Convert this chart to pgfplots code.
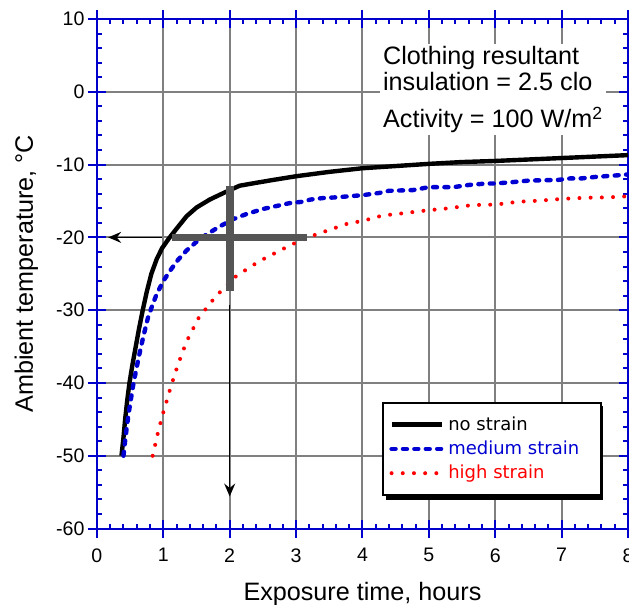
\documentclass[border=0pt]{standalone}
\usepackage{fontspec}
\setmainfont{Liberation Sans}
\newfontfamily\legendfont{DejaVu Sans}
\usepackage{pgfplots}
\pgfplotsset{compat=1.18}
\usetikzlibrary{arrows.meta}
\definecolor{axblue}{RGB}{0,0,205}
\definecolor{curveblue}{RGB}{0,0,210}
\definecolor{curvered}{RGB}{255,0,0}
\definecolor{gridgray}{RGB}{128,128,128}
\definecolor{crossgray}{RGB}{85,85,85}
\pgfplotsset{
  common/.style={
    scale only axis, width=265.75pt, height=255pt,
    xmin=0, xmax=8, ymin=-60, ymax=10,
    xtick={0,1,...,8}, ytick={-60,-50,...,10},
    tick style={axblue, line width=1pt},
    legend cell align=left,
    legend image code/.code={\draw[##1] (0pt,0pt) -- (25.3pt,0pt);},
    legend style={at={(axis cs:4.30,-42.66)}, anchor=north west,
      line width=1pt,
      inner xsep=3pt, inner ysep=6.5pt,
      font=\legendfont\fontsize{9}{10}\selectfont,
      nodes={inner sep=0pt}, row sep=3.8pt,
      /tikz/every odd column/.append style={column sep=2pt}},
  }
}
\begin{document}
\begin{tikzpicture}
% background axis: grid, outward major ticks, legend shadow
\begin{axis}[common,
  minor tick num=0,
  tick align=outside, major tick length=4.5pt,
  axis line style={draw=none},
  xticklabels={}, yticklabels={},
  grid=major, major grid style={gridgray, line width=1pt},
  legend style={xshift=2pt, yshift=-2pt, draw=black, fill=black, text=black},
]
\addplot[draw=none] coordinates {(0,0)};
\addlegendentry{\phantom{no strain}}
\addplot[draw=none] coordinates {(0,0)};
\addlegendentry{\phantom{medium strain}\hspace*{7.8pt}}
\addplot[draw=none] coordinates {(0,0)};
\addlegendentry{\phantom{high strain}}
\end{axis}
% main axis
\begin{axis}[common,
  minor x tick num=4, minor y tick num=4,
  tick align=inside, major tick length=4.5pt, minor tick length=2.5pt,
  axis line style={axblue, line width=1pt},
  /pgf/number format/assume math mode=true,
  ticklabel style={font=\fontsize{9.8}{11}\selectfont, inner sep=0pt},
  xticklabel style={yshift=-9.75pt},
  yticklabel style={xshift=-6pt},
  xlabel={Exposure time, hours},
  ylabel={Ambient temperature, °C},
  label style={font=\fontsize{12.6}{14}\selectfont},
  xlabel style={at={(axis description cs:0.5,-0.141)}, anchor=base},
  ylabel style={at={(axis description cs:-0.1204,0.5)}, anchor=base},
  legend style={draw=black, fill=white},
]
\addplot[black, line width=2.2pt, line join=round] coordinates {
(0.37,-50) (0.40,-47.5) (0.425,-45) (0.455,-42.5) (0.49,-40) (0.535,-37.5)
(0.585,-35) (0.635,-32.5) (0.69,-30) (0.75,-27.5) (0.82,-25) (0.90,-23)
(0.98,-21.5) (1.08,-20.2) (1.2,-18.8) (1.35,-17.1) (1.5,-15.9) (1.7,-14.8)
(1.93,-13.8) (2.15,-12.9) (2.4,-12.5) (2.66,-12.1) (3.0,-11.6) (3.5,-11.0)
(4,-10.5) (4.5,-10.2) (5,-9.9) (5.5,-9.65) (6,-9.5) (6.5,-9.3) (7,-9.1)
(7.5,-8.9) (8,-8.7)};
\addlegendentry{no strain}
\addplot[curveblue, line width=2.2pt, line cap=round, line join=round, dash pattern=on 2pt off 3.7pt] coordinates {
(0.40,-50) (0.43,-47.5) (0.47,-44.7) (0.51,-42.3) (0.55,-40.1) (0.60,-37.8)
(0.65,-35.6) (0.71,-33.2) (0.77,-31) (0.84,-29.2) (0.90,-27.8) (1.00,-26.0)
(1.10,-24.6) (1.22,-23.1) (1.35,-21.8) (1.50,-20.6) (1.65,-19.6) (1.85,-18.5)
(2.05,-17.5) (2.25,-16.8) (2.50,-16.1) (2.7,-15.7) (2.9,-15.3) (3.1,-15.1)
(3.22,-14.8) (3.4,-14.6) (3.6,-14.5) (4,-14.2) (4.25,-13.9) (4.4,-13.6)
(4.76,-13.5) (5,-13.1) (5.37,-13.1) (5.6,-12.8) (5.86,-12.6) (6,-12.6)
(6.27,-12.4) (6.5,-12.2) (6.95,-12.1) (7.13,-11.9) (7.3,-11.9) (7.5,-11.7)
(7.88,-11.45) (8,-11.35)};
\addlegendentry{\textcolor{curveblue}{medium strain}\hspace*{7.8pt}}
\addplot[curvered, line width=2pt, line cap=round, line join=round, dash pattern=on 0pt off 5.6pt] coordinates {
(0.84,-50) (0.88,-48.4) (0.92,-46.8) (0.965,-45.2) (1.01,-43.7) (1.06,-42.2)
(1.11,-40.6) (1.22,-37.5) (1.35,-34.3) (1.53,-31.1) (1.79,-28.1) (2.10,-25.3)
(2.44,-23.3) (2.80,-21.6) (3.0,-20.7) (3.3,-19.6) (3.62,-18.6) (3.81,-18.0)
(3.98,-17.8) (4.3,-17.0) (4.6,-16.7) (4.96,-16.3) (5.3,-16.0) (5.66,-15.55)
(6,-15.5) (6.35,-15.1) (6.67,-14.95) (7.02,-14.7) (7.38,-14.55) (7.7,-14.5)
(8,-14.35)};
\addlegendentry{\textcolor{curvered}{high strain}}
% annotation cross and arrows
\addplot[crossgray, line width=3.8pt, forget plot] coordinates {(1.124,-20) (3.165,-20)};
\addplot[crossgray, line width=4pt, forget plot] coordinates {(2,-13.0) (2,-27.3)};
\addplot[black, line width=0.7pt, -{Stealth[length=6.5pt,width=5.5pt,inset=2.2pt]}, forget plot] coordinates {(0.973,-20) (0.17,-20)};
\addplot[black, line width=0.7pt, -{Stealth[length=6.5pt,width=5.5pt,inset=2.2pt]}, forget plot] coordinates {(2,-29.25) (2,-55.6)};
\node[anchor=north west, fill=white, inner xsep=1.5pt, inner ysep=1pt, align=left,
  font=\fontsize{12.6}{13.15}\selectfont] at (axis cs:4.26,6.57)
  {Clothing resultant\\insulation = 2.5 clo\\[5.35pt]Activity = 100 W/m\textsuperscript{2}};
\end{axis}
\pgfresetboundingbox
\useasboundingbox (-48.5pt,-38pt) rectangle (266.25pt,264.5pt);
\end{tikzpicture}
\end{document}
